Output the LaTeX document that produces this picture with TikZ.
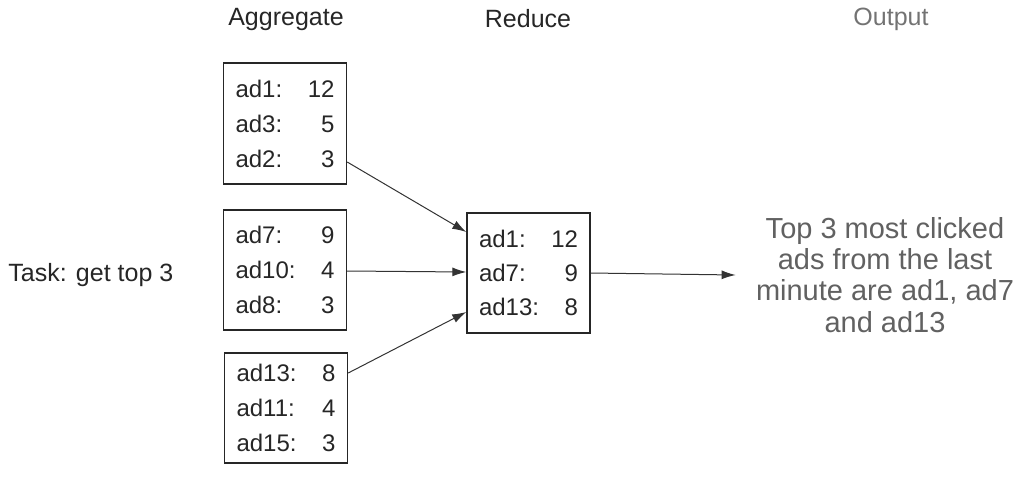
\documentclass[tikz,border=0pt]{standalone}
\usepackage{fontspec}
\setmainfont{Liberation Sans}
\usetikzlibrary{arrows.meta}
\begin{document}
\begin{tikzpicture}[x=0.5pt,y=-0.5pt,
  box/.style={draw=black!85, line width=0.7pt, minimum width=61.5pt, inner sep=0pt,
    text width=49.5pt, align=left, text=black!85, font=\fontsize{12}{17.5}\selectfont},
  conn/.style={draw=black!80, line width=0.5pt, -{Latex[length=7pt,width=4.5pt]}},
  hdr/.style={text=black!85, font=\fontsize{12.5}{15}\selectfont, inner sep=0pt}]
\useasboundingbox (0,0) rectangle (1024,484);
% headers
\node[hdr] (hagg) at (286,19) {Aggregate};
\node[hdr] (hred) at (528,19) {Reduce};
\node[hdr, text=black!55] (hout) at (891,19) {Output};
% task
\node[hdr, anchor=west] (task) at (8,275) {Task: get top 3};
% aggregate boxes
\node[box, minimum height=60.5pt] (a1) at (285,123.5) {ad1:\hfill 12\\ad3:\hfill 5\\ad2:\hfill 3};
\node[box, minimum height=60pt] (a2) at (285,270) {ad7:\hfill 9\\ad10:\hfill 4\\ad8:\hfill 3};
\node[box, minimum height=55pt] (a3) at (286,408) {ad13:\hfill 8\\ad11:\hfill 4\\ad15:\hfill 3};
% reduce box
\node[box, minimum height=60pt, font=\fontsize{12}{17}\selectfont] (red) at (528.5,273) {ad1:\hfill 12\\ad7:\hfill 9\\ad13:\hfill 8};
% output
\node[align=center, text=black!62, font=\fontsize{14.5}{15.6}\selectfont, inner sep=0pt] (out) at (885,275)
  {Top 3 most clicked\\ads from the last\\minute are ad1, ad7\\and ad13};
% connectors
\draw[conn] ([yshift=-19.25pt]a1.east) -- ([yshift=20.5pt]red.west);
\draw[conn] ([yshift=-0.5pt]a2.east) -- ([yshift=0.5pt]red.west);
\draw[conn] ([yshift=17.5pt]a3.east) -- ([yshift=-19.5pt]red.west);
\draw[conn] (red.east) -- ([xshift=-10pt]out.west);
\end{tikzpicture}
\end{document}
